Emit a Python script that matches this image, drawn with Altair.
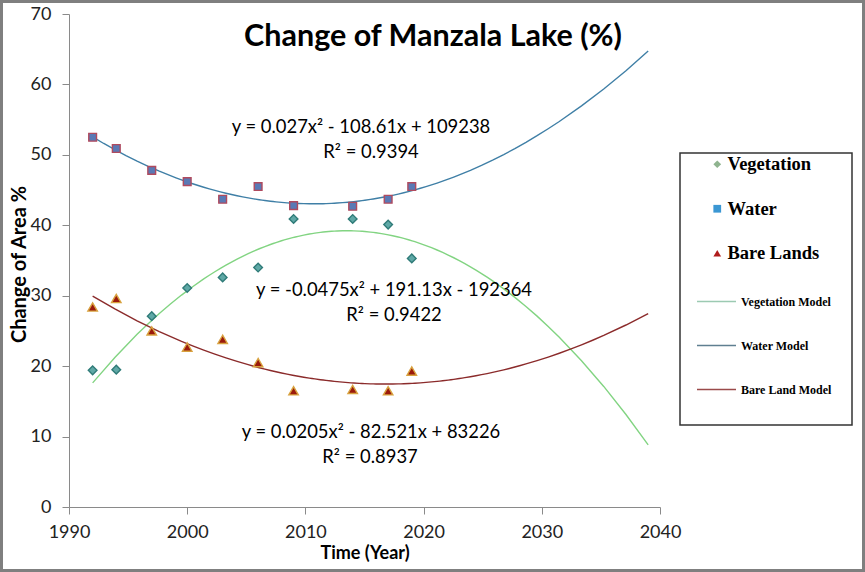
import altair as alt
import pandas as pd

# ---------------- data ----------------
years = [1992, 1994, 1997, 2000, 2003, 2006, 2009, 2014, 2017, 2019]
vegetation = [19.4, 19.5, 27.1, 31.1, 32.6, 34.0, 40.9, 40.9, 40.1, 35.3]
water = [52.5, 50.9, 47.8, 46.2, 43.7, 45.5, 42.8, 42.7, 43.7, 45.5]
bare_lands = [28.4, 29.6, 25.0, 22.7, 23.8, 20.5, 16.5, 16.7, 16.5, 19.3]

series_names = ["Vegetation", "Water", "Bare Lands"]
model_names = ["Vegetation Model", "Water Model", "Bare Land Model"]
fit_extent = [1992, 2039]

x_ticks = [1990, 2000, 2010, 2020, 2030, 2040]
y_ticks = [0, 10, 20, 30, 40, 50, 60, 70]

title_text = "Change of Manzala Lake (%)"
eq_water = ["y = 0.027x² - 108.61x + 109238", "R² = 0.9394"]
eq_veg = ["y = -0.0475x² + 191.13x - 192364", "R² = 0.9422"]
eq_bare = ["y = 0.0205x² - 82.521x + 83226", "R² = 0.8937"]

# ---------------- table ----------------
rows = []
for name, vals in zip(series_names, [vegetation, water, bare_lands]):
    for yr, v in zip(years, vals):
        rows.append({"year": yr, "value": v, "series": name})
df = pd.DataFrame(rows)
one = pd.DataFrame({"k": [0]})

# ---------------- layout / style ----------------
W, H = 591, 493
PAD_L, PAD_T = 69, 14
FONT = "Lato"
SERIF = "Liberation Serif"

x_enc = alt.X(
    "year:Q",
    scale=alt.Scale(domain=[1990, 2040], nice=False, zero=False),
    axis=alt.Axis(
        values=x_ticks, format="d", title="Time (Year)", grid=False,
        labelFont=FONT, labelFontSize=18, labelColor="#222222", labelFlush=False,
        labelPadding=9, tickSize=7, tickColor="#8a8a8a",
        domainColor="#8a8a8a", titleFont=FONT, titleFontSize=18,
        titleFontWeight="bold", titleColor="black",
        titleY=46, titleBaseline="middle",
    ),
)
y_enc = alt.Y(
    "value:Q",
    scale=alt.Scale(domain=[0, 70], nice=False),
    axis=alt.Axis(
        values=y_ticks, title="Change of Area %", grid=False,
        labelFont=FONT, labelFontSize=18, labelColor="#222222", labelFlush=False,
        labelPadding=11, tickSize=7, tickColor="#8a8a8a",
        domainColor="#8a8a8a", titleFont=FONT, titleFontSize=20,
        titleFontWeight="bold", titleColor="black",
        titleX=-50, titleY=250, titleAngle=270,
        titleAlign="center", titleBaseline="middle",
    ),
)

point_style = {
    "Vegetation": dict(shape="diamond", fill="#5fa8a6", stroke="#2f7b78", size=75),
    "Water": dict(shape="square", fill="#5a79b5", stroke="#b04a5e", size=60),
    "Bare Lands": dict(shape="triangle-up", fill="#9b1a0c", stroke="#d8a23f", size=90),
}
line_color = {"Vegetation": "#82d482", "Water": "#3f7fa6", "Bare Lands": "#8b2b2b"}

layers = []
# fitted curves (computed by Vega's own regression)
for s in series_names:
    layers.append(
        alt.Chart(df)
        .transform_filter(alt.datum.series == s)
        .transform_regression("year", "value", method="poly", order=2, extent=fit_extent)
        .mark_line(color=line_color[s], strokeWidth=1.4)
        .encode(x=x_enc, y=y_enc)
    )
# observed points
for s in series_names:
    st = point_style[s]
    layers.append(
        alt.Chart(df)
        .transform_filter(alt.datum.series == s)
        .mark_point(shape=st["shape"], filled=True, fill=st["fill"], stroke=st["stroke"],
                    strokeWidth=1.4, size=st["size"], opacity=1)
        .encode(x=x_enc, y=y_enc)
    )

# legend for observed series (no marks drawn)
pt_legend = alt.Legend(
    title=None, orient="none", legendX=639, legendY=141, padding=0,
    labelFont=SERIF, labelFontSize=18.5, labelFontWeight="bold", labelColor="black",
    symbolSize=60, rowPadding=25.5, labelOffset=1, symbolStrokeWidth=0,
)
layers.append(
    alt.Chart(df)
    .transform_filter("false")
    .mark_point(filled=True, opacity=1)
    .encode(
        x=x_enc, y=y_enc,
        fill=alt.Fill("series:N", scale=alt.Scale(domain=series_names,
                      range=["#8fb48f", "#3b97d3", "#b01c1c"]), legend=pt_legend),
        shape=alt.Shape("series:N", scale=alt.Scale(domain=series_names,
                        range=["diamond", "square", "triangle-up"]), legend=pt_legend),
    )
)
# legend for models
ln_legend = alt.Legend(
    title=None, orient="none", legendX=627, legendY=267, padding=0,
    labelFont=SERIF, labelFontSize=12, labelFontWeight="bold", labelColor="black",
    symbolType="stroke", symbolSize=1521, symbolStrokeWidth=1.5,
    rowPadding=17, labelOffset=4,
)
layers.append(
    alt.Chart(df)
    .transform_filter("false")
    .mark_line()
    .encode(
        x=x_enc, y=y_enc,
        stroke=alt.Stroke("model:N", scale=alt.Scale(domain=model_names,
                          range=["#9ccab2", "#5f7f91", "#9a4a4a"]), legend=ln_legend),
    )
)

# legend frame and outer frame
layers.append(
    alt.Chart(one).mark_rect(fill="transparent", stroke="#333333", strokeWidth=1.5)
    .encode(x=alt.value(611), x2=alt.value(783), y=alt.value(139), y2=alt.value(411))
)
layers.append(
    alt.Chart(one).mark_rect(fill="transparent", stroke="#7f7f7f", strokeWidth=3)
    .encode(x=alt.value(-PAD_L + 1.5), x2=alt.value(865 - PAD_L - 1.5),
            y=alt.value(-PAD_T + 1.5), y2=alt.value(572 - PAD_T - 1.5))
)

# title and equation labels
def label(text, cx, cy, size, weight="normal"):
    return (
        alt.Chart(one)
        .mark_text(text=text, font=FONT, fontSize=size, fontWeight=weight,
                   color="black", align="center", baseline="middle")
        .encode(x=alt.value(cx - PAD_L), y=alt.value(cy - PAD_T))
    )

layers.append(label(title_text, 433, 37, 30.5, "bold"))
layers.append(label(eq_water[0], 361, 127, 18.4))
layers.append(label(eq_water[1], 371, 152, 18.4))
layers.append(label(eq_veg[0], 394, 290, 18.4))
layers.append(label(eq_veg[1], 394, 315, 18.4))
layers.append(label(eq_bare[0], 371, 432, 18.4))
layers.append(label(eq_bare[1], 370, 457, 18.4))

chart = (
    alt.layer(*layers)
    .properties(
        width=W, height=H,
        padding={"left": PAD_L, "top": PAD_T, "right": 865 - PAD_L - W, "bottom": 572 - PAD_T - H},
        autosize=alt.AutoSizeParams(type="none"),
        background="white",
    )
    .configure_view(stroke=None)
)

chart.save("out.html", embed_options={"renderer": "svg", "actions": False})
